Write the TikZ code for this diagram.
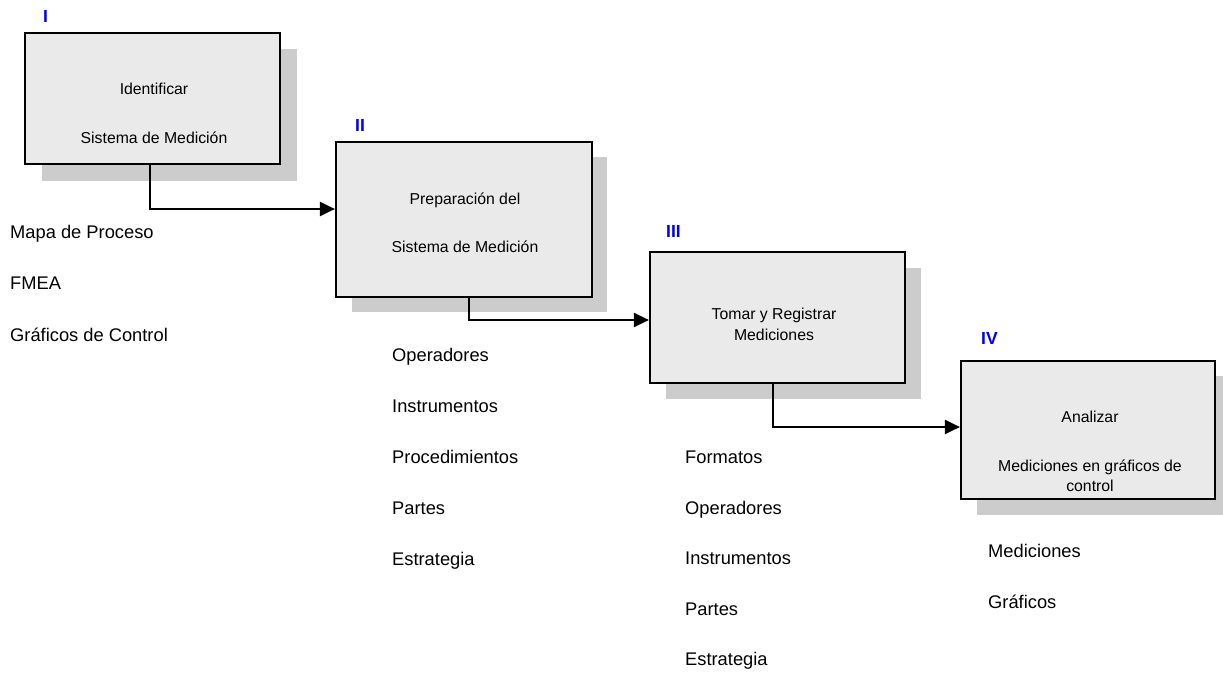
\documentclass[tikz,border=0pt]{standalone}
\usepackage{fontspec}
\setmainfont{Liberation Sans}
\usetikzlibrary{calc,arrows.meta}
\definecolor{boxfill}{HTML}{EAEAEA}
\definecolor{shadowgray}{HTML}{CCCCCC}
\definecolor{stageblue}{HTML}{0000F5}
\begin{document}
\begin{tikzpicture}[x=1pt,y=-1pt,
  stagebox/.style={draw=black,line width=2.2pt,fill=boxfill,inner sep=0pt},
  boxtext/.style={anchor=base,inner sep=0pt,font=\fontsize{15.8}{19}\selectfont},
  itemtext/.style={anchor=base west,inner sep=0pt,font=\fontsize{18.3}{22}\selectfont},
  stagelabel/.style={anchor=base west,inner sep=0pt,text=stageblue,font=\bfseries\fontsize{17.5}{20}\selectfont},
  link/.style={line width=2.3pt,-{Triangle[length=15pt,width=14pt]}}]
\clip (0,0) rectangle (1223,672);
\fill[white] (0,0) rectangle (1223,672);

% drop shadows behind the stage boxes
\fill[shadowgray] (42,49) rectangle (297,181);
\fill[shadowgray] (352,157) rectangle (607,312);
\fill[shadowgray] (666,268) rectangle (921,399);
\fill[shadowgray] (977,376) rectangle (1232,515);

% stage boxes
\node[stagebox,minimum width=255pt,minimum height=131pt] (I) at (152.5,98.5) {};
\node[stagebox,minimum width=256pt,minimum height=155pt] (II) at (464,219.5) {};
\node[stagebox,minimum width=255pt,minimum height=131pt] (III) at (777.5,317.5) {};
\node[stagebox,minimum width=254pt,minimum height=138pt] (IV) at (1088,430) {};

% stage numbers
\node[stagelabel] (nI) at (43,22) {I};
\node[stagelabel] (nII) at (355,131) {II};
\node[stagelabel] (nIII) at (666,237) {III};
\node[stagelabel] (nIV) at (981,344) {IV};

% box texts
\node[boxtext] (tIa) at (154,94) {Identificar};
\node[boxtext] (tIb) at (154,143) {Sistema de Medición};
\node[boxtext] (tIIa) at (465,204) {Preparación del};
\node[boxtext] (tIIb) at (465,252) {Sistema de Medición};
\node[boxtext] (tIIIa) at (774,319) {Tomar y Registrar};
\node[boxtext] (tIIIb) at (774,340) {Mediciones};
\node[boxtext] (tIVa) at (1090,422) {Analizar};
\node[boxtext] (tIVb) at (1090,471) {Mediciones en gráficos de};
\node[boxtext] (tIVc) at (1090,491) {control};

% connectors between stages
\coordinate (k1) at (150,209);
\coordinate (k2) at (469,320);
\coordinate (k3) at (773,427);
\draw[link] (I.south -| k1) -- (k1) -- (II.west |- k1);
\draw[link] (II.south -| k2) -- (k2) -- (III.west |- k2);
\draw[link] (III.south -| k3) -- (k3) -- (IV.west |- k3);

% inputs of each stage
\node[itemtext] (a1) at (10,238) {Mapa de Proceso};
\node[itemtext] (a2) at (10,289) {FMEA};
\node[itemtext] (a3) at (10,341) {Gráficos de Control};

\node[itemtext] (b1) at (392,361) {Operadores};
\node[itemtext] (b2) at (392,412) {Instrumentos};
\node[itemtext] (b3) at (392,463) {Procedimientos};
\node[itemtext] (b4) at (392,514) {Partes};
\node[itemtext] (b5) at (392,565) {Estrategia};

\node[itemtext] (c1) at (685,463) {Formatos};
\node[itemtext] (c2) at (685,514) {Operadores};
\node[itemtext] (c3) at (685,564) {Instrumentos};
\node[itemtext] (c4) at (685,615) {Partes};
\node[itemtext] (c5) at (685,665) {Estrategia};

\node[itemtext] (d1) at (988,557) {Mediciones};
\node[itemtext] (d2) at (988,608) {Gráficos};
\end{tikzpicture}
\end{document}
